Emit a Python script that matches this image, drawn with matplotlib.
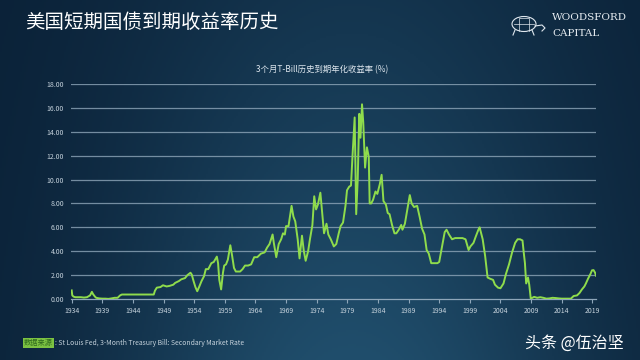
import numpy as np
import matplotlib
matplotlib.use("Agg")
import matplotlib.pyplot as plt
from matplotlib.patches import Ellipse

plt.rcParams['font.family'] = ['Noto Sans CJK SC', 'DejaVu Sans']

title = "美国短期国债到期收益率历史"
subtitle = "3个月T-Bill历史到期年化收益率 (%)"
source_label = "数据来源"
source_text = ": St Louis Fed, 3-Month Treasury Bill: Secondary Market Rate"
watermark = "头条 @伍治坚"

years = [
    1934.0, 1934.1, 1934.3, 1934.6, 1935.0, 1935.5, 1936.0, 1936.5, 1937.0, 1937.3, 1937.5, 1937.8,
    1938.0, 1938.5, 1939.0, 1939.5, 1940.0, 1940.5, 1941.0, 1941.5, 1941.9, 1942.2, 1944.0, 1946.0,
    1947.4, 1947.6, 1947.9, 1948.5, 1948.9, 1949.5, 1950.0, 1950.6, 1950.9, 1951.5, 1951.9, 1952.5,
    1952.9, 1953.4, 1953.6, 1953.9, 1954.2, 1954.5, 1954.8, 1955.2, 1955.6, 1955.9, 1956.3, 1956.8,
    1957.2, 1957.7, 1957.9, 1958.1, 1958.4, 1958.7, 1958.9, 1959.2, 1959.5, 1959.9, 1960.2, 1960.5,
    1960.8, 1961.2, 1961.5, 1961.9, 1962.3, 1962.8, 1963.3, 1963.8, 1964.3, 1964.9, 1965.5, 1965.9,
    1966.3, 1966.8, 1967.0, 1967.4, 1967.8, 1968.2, 1968.5, 1968.8, 1969.0, 1969.4, 1969.9, 1970.2,
    1970.5, 1970.9, 1971.2, 1971.6, 1971.9, 1972.2, 1972.6, 1972.9, 1973.3, 1973.6, 1973.9, 1974.2,
    1974.6, 1974.9, 1975.2, 1975.6, 1975.9, 1976.3, 1976.8, 1977.2, 1977.6, 1977.9, 1978.3, 1978.7,
    1978.95, 1979.3, 1979.6, 1979.85, 1980.2, 1980.45, 1980.7, 1980.95, 1981.15, 1981.4, 1981.6, 1981.9,
    1982.2, 1982.5, 1982.65, 1982.9, 1983.2, 1983.6, 1983.9, 1984.3, 1984.6, 1984.9, 1985.3, 1985.6,
    1985.9, 1986.3, 1986.7, 1987.0, 1987.4, 1987.8, 1988.0, 1988.4, 1988.8, 1989.2, 1989.5, 1989.9,
    1990.4, 1990.8, 1991.2, 1991.6, 1991.95, 1992.3, 1992.7, 1993.2, 1993.7, 1994.0, 1994.4, 1994.9,
    1995.2, 1995.6, 1996.1, 1996.6, 1997.2, 1997.8, 1998.3, 1998.8, 1999.1, 1999.6, 1999.95, 2000.4,
    2000.6, 2001.1, 2001.5, 2001.9, 2002.3, 2002.8, 2003.1, 2003.6, 2004.0, 2004.5, 2004.9, 2005.4,
    2005.9, 2006.4, 2006.8, 2007.2, 2007.6, 2007.8, 2008.0, 2008.2, 2008.5, 2008.7, 2008.95, 2009.5,
    2010.0, 2010.5, 2011.0, 2011.5, 2012.0, 2012.5, 2013.0, 2013.5, 2014.0, 2014.5, 2015.0, 2015.5,
    2015.95, 2016.5, 2016.9, 2017.3, 2017.7, 2017.95, 2018.3, 2018.7, 2018.95, 2019.2, 2019.45, 2019.6,
]
rates = [
    0.72, 0.30, 0.20, 0.15, 0.15, 0.15, 0.12, 0.15, 0.30, 0.60, 0.40, 0.20,
    0.10, 0.05, 0.03, 0.03, 0.01, 0.05, 0.10, 0.10, 0.30, 0.375, 0.375, 0.375,
    0.375, 0.70, 0.95, 1.00, 1.15, 1.05, 1.10, 1.20, 1.35, 1.50, 1.65, 1.75,
    2.00, 2.20, 2.05, 1.50, 1.00, 0.65, 1.00, 1.50, 1.90, 2.50, 2.50, 3.00,
    3.10, 3.55, 3.00, 1.60, 0.80, 2.20, 2.80, 2.90, 3.30, 4.50, 3.60, 2.60,
    2.30, 2.30, 2.30, 2.50, 2.80, 2.80, 2.90, 3.50, 3.50, 3.80, 3.90, 4.30,
    4.60, 5.40, 4.70, 3.50, 4.60, 5.00, 5.50, 5.40, 6.10, 6.10, 7.80, 6.90,
    6.50, 5.00, 3.40, 5.30, 4.00, 3.20, 4.00, 5.00, 6.20, 8.60, 7.50, 7.90,
    8.90, 7.20, 5.50, 6.30, 5.40, 5.00, 4.40, 4.60, 5.50, 6.10, 6.40, 7.80,
    9.10, 9.40, 9.50, 12.00, 15.20, 7.10, 10.00, 15.50, 13.50, 16.30, 14.80, 11.00,
    12.70, 11.90, 8.00, 8.00, 8.30, 9.00, 8.80, 9.60, 10.40, 8.20, 7.90, 7.20,
    7.10, 6.20, 5.50, 5.50, 5.80, 6.20, 5.80, 6.30, 7.50, 8.70, 8.00, 7.70,
    7.80, 6.90, 5.90, 5.40, 4.10, 3.80, 3.00, 3.00, 3.00, 3.10, 4.20, 5.60,
    5.80, 5.40, 5.00, 5.10, 5.10, 5.10, 5.00, 4.10, 4.40, 4.70, 5.20, 5.80,
    6.00, 5.00, 3.60, 1.80, 1.70, 1.60, 1.20, 0.95, 0.90, 1.30, 2.10, 2.90,
    3.90, 4.70, 5.00, 5.00, 4.90, 3.90, 3.00, 1.30, 1.80, 1.20, 0.03, 0.18,
    0.10, 0.15, 0.10, 0.03, 0.05, 0.10, 0.08, 0.05, 0.03, 0.03, 0.03, 0.03,
    0.25, 0.30, 0.50, 0.80, 1.05, 1.30, 1.70, 2.10, 2.40, 2.42, 2.20, 1.95,
]
xtick_years = list(range(1934, 2020, 5))
ytick_values = [0, 2, 4, 6, 8, 10, 12, 14, 16, 18]

fig = plt.figure(figsize=(6.4, 3.6), dpi=100)

# background gradient
bg = fig.add_axes([0, 0, 1, 1], zorder=-10)
H, W = 180, 320
xx, yy = np.meshgrid(np.linspace(0, 1, W), np.linspace(0, 1, H))
dark = np.array([10, 32, 54]) / 255.0
light = np.array([32, 78, 108]) / 255.0
f = np.exp(-((xx - 0.55) / 0.38) ** 2) * (0.45 + 0.55 * yy)
img = dark[None, None, :] + (light - dark)[None, None, :] * f[..., None]
bg.imshow(img, aspect='auto', extent=[0, 1, 0, 1], origin='upper')
bg.axis('off')

ax = fig.add_axes([71 / 640, 1 - 299 / 360, (596 - 71) / 640, (299 - 84) / 360])
ax.set_facecolor('none')
ax.plot(years, rates, color='#8fdc4c', lw=1.4, zorder=3)
ax.set_xlim(1933.89, 2019.6)
ax.set_ylim(0, 18)
for v in ytick_values[1:]:
    ax.axhline(v, color='#8ea6b9', lw=0.9, alpha=0.8, zorder=1)
for s in ['top', 'right', 'left']:
    ax.spines[s].set_visible(False)
ax.spines['bottom'].set_color('#8ea6b9')
ax.spines['bottom'].set_linewidth(0.9)
ax.set_xticks(xtick_years)
ax.set_xticklabels([str(y) for y in xtick_years])
ax.set_yticks(ytick_values)
ax.set_yticklabels([f"{v:.2f}" for v in ytick_values])
ax.tick_params(axis='x', colors='#8ea6b9', length=3, width=0.8, labelsize=5, labelcolor='#c5d2dc', pad=3)
ax.tick_params(axis='y', length=0, labelsize=5, labelcolor='#c5d2dc', pad=5)

fig.text(25 / 640, 1 - 22 / 360, title, color='white', fontsize=14, va='center', ha='left')
fig.text(322 / 640, 1 - 70 / 360, subtitle, color='#dde6ee', fontsize=6, va='center', ha='center')

# logo
fig.text(552 / 640, 1 - 18 / 360, "WOODSFORD", color='#e8eef3', fontsize=7.5, family='DejaVu Serif', va='center', ha='left')
fig.text(552 / 640, 1 - 33 / 360, "CAPITAL", color='#e8eef3', fontsize=7.5, family='DejaVu Serif', va='center', ha='left')
lx = fig.add_axes([505 / 640, 1 - 40 / 360, 44 / 640, 28 / 360])
lx.set_xlim(0, 44); lx.set_ylim(0, 28); lx.axis('off')
lx.add_patch(Ellipse((19, 16), 24, 15, fill=False, ec='#dfe7ee', lw=0.8))
lx.plot([9, 29], [16, 16], color='#dfe7ee', lw=0.5)
lx.plot([14, 14, 24, 24], [9, 22, 22, 9], color='#dfe7ee', lw=0.5)
lx.plot([30, 37, 40, 37], [14, 15, 12, 9], color='#dfe7ee', lw=0.8)
lx.plot([10, 8], [10, 5], color='#dfe7ee', lw=0.8)
lx.plot([27, 29], [10, 5], color='#dfe7ee', lw=0.8)

# footer
fig.text(24 / 640, 1 - 343 / 360, source_label, color='#2f6a1d', fontsize=5.2, va='center', ha='left',
         bbox=dict(boxstyle='square,pad=0.1', fc='#7cc242', ec='none'))
fig.text(55 / 640, 1 - 343 / 360, source_text, color='#c5d2dc', fontsize=4.9, va='center', ha='left')
fig.text(624 / 640, 1 - 343 / 360, watermark, color='white', fontsize=11.5, va='center', ha='right')

fig.savefig('out.png', dpi=100)
